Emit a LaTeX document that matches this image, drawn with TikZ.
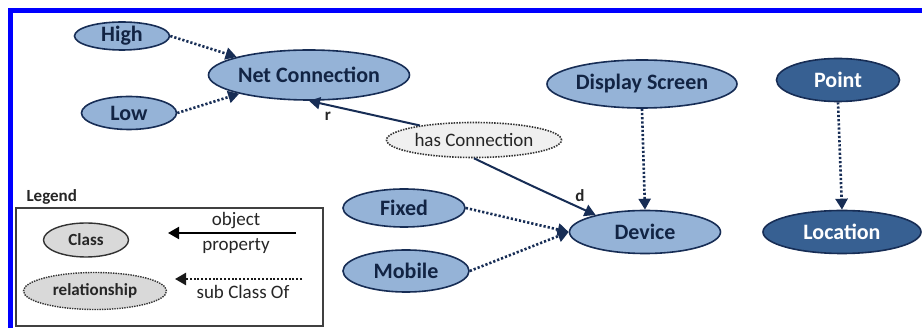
\documentclass[tikz,border=0pt]{standalone}
\usepackage{fontspec}
\setmainfont{Carlito}
\usetikzlibrary{shapes.geometric,arrows.meta}
\definecolor{navy}{RGB}{23,45,85}
\definecolor{lightfill}{RGB}{149,179,215}
\definecolor{darkfill}{RGB}{55,96,146}
\definecolor{grayfill}{RGB}{217,217,217}
\definecolor{framecol}{RGB}{0,0,255}
\tikzset{
  cls/.style={ellipse, draw=navy, line width=1.6pt, fill=lightfill, inner sep=0pt,
    font=\fontsize{22}{22}\selectfont\bfseries, text=navy!80!black},
  dcls/.style={ellipse, draw=navy, line width=1.6pt, fill=darkfill, inner sep=0pt,
    font=\fontsize{22}{22}\selectfont\bfseries, text=white},
  rel/.style={ellipse, draw=black!80, line width=1.6pt, dash pattern=on 1.5pt off 1.2pt, fill=black!6, inner sep=0pt,
    font=\fontsize{19}{19}\selectfont, text=black!85},
  sub/.style={draw=navy, line width=2.6pt, dash pattern=on 2.2pt off 2pt, -{Triangle[length=11pt,width=12pt]}},
  prop/.style={draw=navy, line width=2pt, -{Triangle[length=11pt,width=12pt]}},
  lab/.style={font=\fontsize{17}{17}\selectfont\bfseries, text=black!85},
  legcls/.style={ellipse, draw=black!80, line width=1.4pt, fill=grayfill, inner sep=0pt,
    font=\fontsize{17}{17}\selectfont\bfseries, text=black!85},
  legrel/.style={ellipse, draw=black!80, line width=1.4pt, dash pattern=on 1.4pt off 1.1pt, fill=grayfill, inner sep=0pt,
    font=\fontsize{17}{17}\selectfont\bfseries, text=black!85},
  legtxt/.style={font=\fontsize{19}{19}\selectfont, text=black!85},
}
\begin{document}
\begin{tikzpicture}[x=1pt,y=-1pt]
\useasboundingbox (0,0) rectangle (922,328);
\fill[white] (0,0) rectangle (922,328);
% blue frame
\fill[framecol] (8,8) rectangle (922,13);
\fill[framecol] (8,8) rectangle (13,328);

% classes
\node[cls, minimum width=95pt, minimum height=28pt] (high) at (122,36) {High};
\node[cls, minimum width=201pt, minimum height=50pt] (net) at (309,75) {Net Connection};
\node[cls, minimum width=95pt, minimum height=33pt] (low) at (129,113) {Low};
\node[rel, minimum width=175pt, minimum height=35pt] (has) at (474,140) {has Connection};
\node[cls, minimum width=190pt, minimum height=48pt] (disp) at (642,84) {Display Screen};
\node[dcls, minimum width=123pt, minimum height=43pt] (point) at (838,80) {Point};
\node[cls, minimum width=151pt, minimum height=43pt] (dev) at (645,232) {Device};
\node[dcls, minimum width=158pt, minimum height=43pt] (loc) at (842,232) {Location};
\node[cls, minimum width=122pt, minimum height=38pt] (fixed) at (404,208) {Fixed};
\node[cls, minimum width=126pt, minimum height=42pt] (mobile) at (406,271) {Mobile};

% connectors
\draw[sub] (high.east) -- (net.166);
\draw[sub] (low.east) -- (net.195);
\draw[sub] (disp.south) -- (dev.north);
\draw[sub] (point.south) -- (loc.north);
\draw[sub] (fixed.east) -- (dev.west);
\draw[sub] (mobile.east) -- (dev.west);
\draw[prop] (has.165) -- (net.south);
\draw[prop] (has.south) .. controls (532,186) .. (dev.161);
\node[lab] (r) at (328,116) {r};
\node[lab] (d) at (580,196) {d};

% legend
\node[font=\fontsize{17}{17}\selectfont\bfseries, text=black!85, anchor=west] (legt) at (23,197) {Legend};
\draw[black!75, line width=1.2pt] (16,208) rectangle (323,326);
\node[legcls, minimum width=85pt, minimum height=34pt] (lcls) at (86,240) {Class};
\node[legrel, minimum width=143pt, minimum height=37pt] (lrel) at (95,291) {relationship};
\coordinate (p1) at (296,233);
\coordinate (p2) at (168,233);
\draw[draw=black, line width=2pt, -{Triangle[length=11pt,width=12pt]}] (p1) -- (p2);
\coordinate (q1) at (302,279);
\coordinate (q2) at (175,279);
\draw[draw=black!90, line width=2.4pt, dash pattern=on 2pt off 1.8pt, -{Triangle[length=11pt,width=12pt]}] (q1) -- (q2);
\node[legtxt] (ob) at (236,221) {object};
\node[legtxt] (pr) at (236,246) {property};
\node[legtxt] (sc) at (243,292) {sub Class Of};
\end{tikzpicture}
\end{document}
